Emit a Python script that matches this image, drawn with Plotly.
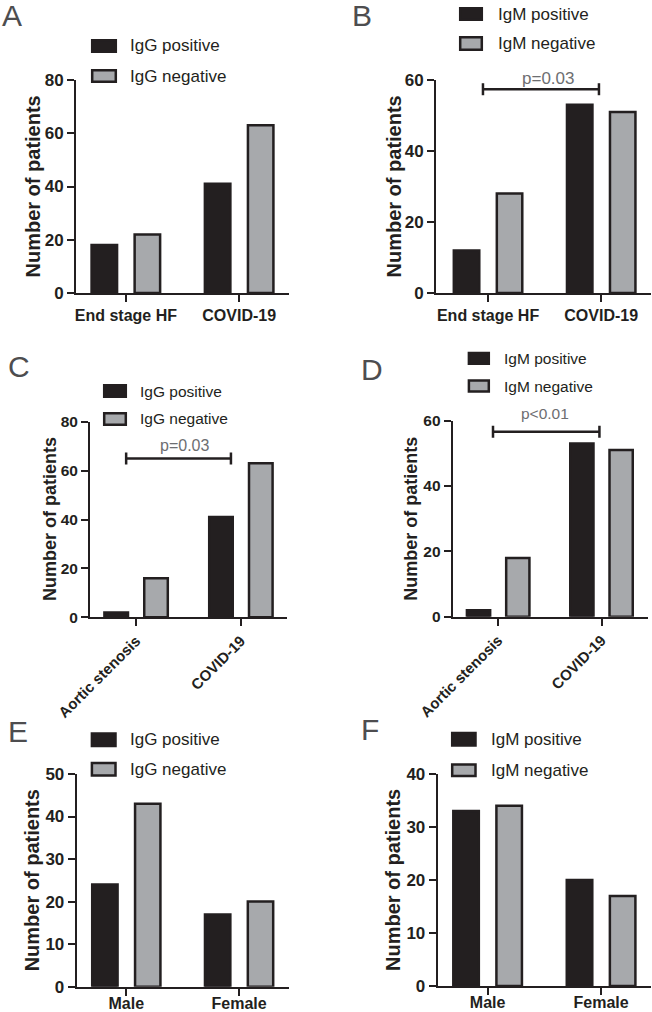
import plotly.graph_objects as go

# ---------------- data ----------------
categories_AB = ["End stage HF", "COVID-19"]
categories_CD = ["Aortic stenosis", "COVID-19"]
categories_EF = ["Male", "Female"]

igg_names = ["IgG positive", "IgG negative"]
igm_names = ["IgM positive", "IgM negative"]

A_pos = [18, 41]
A_neg = [22, 63]
B_pos = [12, 53]
B_neg = [28, 51]
C_pos = [2, 41]
C_neg = [16, 63]
D_pos = [2, 53]
D_neg = [18, 51]
E_pos = [24, 17]
E_neg = [43, 20]
F_pos = [33, 20]
F_neg = [34, 17]

ticks_A = [0, 20, 40, 60, 80]
ticks_B = [0, 20, 40, 60]
ticks_C = [0, 20, 40, 60, 80]
ticks_D = [0, 20, 40, 60]
ticks_E = [0, 10, 20, 30, 40, 50]
ticks_F = [0, 10, 20, 30, 40]

y_title = "Number of patients"
sig_B = "p=0.03"
sig_C = "p=0.03"
sig_D = "p<0.01"

# ---------------- styles / layout ----------------
W, H = 652, 1012
DARK = "#231f20"
GRAY = "#a7a9ac"
FONT = "Arial, 'Liberation Sans', sans-serif"


def px(x):
    return x / W


def py(y):
    return 1 - y / H


panels = [
    dict(letter="A", cats=categories_AB, names=igg_names, vals=(A_pos, A_neg), ticks=ticks_A,
         xdom=(76, 289), ydom=(293, 80), tick_fs=16, ytick_fs=17, title_fs=20, title_x=32, leg_fs=17,
         leg=(91, 117, 39, 53, 69, 83, 128), letter_xy=(12, 15), angle=0, xrange=(-0.44, 1.44), xstand=0),
    dict(letter="B", cats=categories_AB, names=igm_names, vals=(B_pos, B_neg), ticks=ticks_B,
         xdom=(436, 651), ydom=(293, 80), tick_fs=16, ytick_fs=17, title_fs=20, title_x=393, leg_fs=17,
         leg=(459, 483, 7, 21, 36, 51, 496), letter_xy=(362, 15), angle=0, xrange=(-0.46, 1.44), xstand=0,
         sig=sig_B, sig_y=57.4, sig_x=(-0.045, 0.98), sig_txt=(547.7, 78.5), sig_fs=17),
    dict(letter="C", cats=categories_CD, names=igg_names, vals=(C_pos, C_neg), ticks=ticks_C,
         xdom=(90, 287), ydom=(617.3, 421.7), tick_fs=15, ytick_fs=15.5, title_fs=18, title_x=49.5, leg_fs=15.5,
         leg=(103, 127, 384, 398, 412, 426, 138), letter_xy=(18.5, 366.5), angle=-45, xrange=(-0.44, 1.44), xstand=0,
         sig=sig_C, sig_y=65.0, sig_x=(-0.095, 0.905), sig_txt=(184.7, 445), sig_fs=16),
    dict(letter="D", cats=categories_CD, names=igm_names, vals=(D_pos, D_neg), ticks=ticks_D,
         xdom=(452.7, 648), ydom=(616.7, 420.7), tick_fs=15, ytick_fs=15.5, title_fs=18, title_x=411, leg_fs=15.5,
         leg=(467.7, 490, 351.7, 365, 379.3, 392.7, 502), letter_xy=(372, 369), angle=-45, xrange=(-0.44, 1.45), xstand=0,
         sig=sig_D, sig_y=56.6, sig_x=(-0.05, 0.98), sig_txt=(545, 413), sig_fs=15.5),
    dict(letter="E", cats=categories_EF, names=igg_names, vals=(E_pos, E_neg), ticks=ticks_E,
         xdom=(76.7, 288.7), ydom=(986.7, 774), tick_fs=16, ytick_fs=17, title_fs=20, title_x=32, leg_fs=17,
         leg=(90.7, 116.7, 732.3, 747.3, 761.7, 776.7, 128.3), letter_xy=(17.5, 731), angle=0, xrange=(-0.44, 1.44),
         xstand=-6),
    dict(letter="F", cats=categories_EF, names=igm_names, vals=(F_pos, F_neg), ticks=ticks_F,
         xdom=(437.7, 651), ydom=(986, 774), tick_fs=16, ytick_fs=17, title_fs=20, title_x=393, leg_fs=17,
         leg=(451, 476.7, 731.7, 746.7, 763.3, 777.3, 488.7), letter_xy=(369.5, 729), angle=0, xrange=(-0.44, 1.44),
         xstand=-6),
]

BAR_W = 0.225
CENTERS = (-0.19, 0.19)
COLORS = (DARK, GRAY)

fig = go.Figure()
shapes = []
annotations = []

for i, p in enumerate(panels, start=1):
    xa = "x" if i == 1 else f"x{i}"
    ya = "y" if i == 1 else f"y{i}"
    for k in range(2):
        fig.add_trace(go.Bar(
            x=p["cats"], y=p["vals"][k], name=p["names"][k],
            xaxis=xa, yaxis=ya, width=BAR_W, offset=CENTERS[k] - BAR_W / 2,
            marker=dict(color=COLORS[k], line=dict(color=DARK, width=2.5)),
            showlegend=False, cliponaxis=False,
        ))
    axis_common = dict(showline=True, linewidth=2, linecolor=DARK, ticks="outside",
                       ticklen=7, tickwidth=2, tickcolor=DARK, showgrid=False, zeroline=False,
                       automargin=False)
    xkey = "xaxis" if i == 1 else f"xaxis{i}"
    ykey = "yaxis" if i == 1 else f"yaxis{i}"
    fig.update_layout(**{
        xkey: dict(axis_common, domain=[px(p["xdom"][0]), px(p["xdom"][1])], anchor=ya,
                   type="category", range=list(p["xrange"]), tickangle=p["angle"],
                   categoryorder="array", categoryarray=p["cats"],
                   ticklabelstandoff=p["xstand"],
                   tickfont=dict(family=FONT, size=p["tick_fs"], color=DARK, weight="bold")),
        ykey: dict(axis_common, domain=[py(p["ydom"][0]), py(p["ydom"][1])], anchor=xa,
                   range=[0, p["ticks"][-1]], tickvals=p["ticks"],
                   tickfont=dict(family=FONT, size=p["ytick_fs"], color=DARK, weight="bold")),
    })
    # y title
    annotations.append(dict(text=y_title, x=px(p["title_x"]), y=py((p["ydom"][0] + p["ydom"][1]) / 2),
                            xref="paper", yref="paper", showarrow=False, textangle=-90,
                            xanchor="center", yanchor="middle",
                            font=dict(family=FONT, size=p["title_fs"], color=DARK, weight="bold")))
    # panel letter
    annotations.append(dict(text=p["letter"], x=px(p["letter_xy"][0]), y=py(p["letter_xy"][1]),
                            xref="paper", yref="paper", showarrow=False,
                            xanchor="center", yanchor="middle", borderpad=0,
                            font=dict(family=FONT, size=30, color="#4d4d4f")))
    # legend (boxes + labels)
    lx0, lx1, a0, a1, b0, b1, tx = p["leg"]
    for k, (y0, y1) in enumerate(((a0, a1), (b0, b1))):
        shapes.append(dict(type="rect", xref="paper", yref="paper",
                           x0=px(lx0 + 1.2), x1=px(lx1 - 1.2), y0=py(y1 - 1.2), y1=py(y0 + 1.2),
                           fillcolor=COLORS[k], line=dict(color=DARK, width=2.5)))
        annotations.append(dict(text=p["names"][k], x=px(tx), y=py((y0 + y1) / 2),
                                xref="paper", yref="paper", showarrow=False,
                                xanchor="left", yanchor="middle",
                                font=dict(family=FONT, size=p["leg_fs"], color=DARK)))
    # significance bracket
    if "sig" in p:
        sx0, sx1 = p["sig_x"]
        shapes.append(dict(type="line", xref=xa, yref=ya, x0=sx0, x1=sx1, y0=p["sig_y"], y1=p["sig_y"],
                           line=dict(color=DARK, width=2.5)))
        for sx in (sx0, sx1):
            shapes.append(dict(type="line", xref=xa, yref=ya, x0=sx, x1=sx,
                               ysizemode="pixel", yanchor=p["sig_y"], y0=-6, y1=6,
                               line=dict(color=DARK, width=2.5)))
        annotations.append(dict(text=p["sig"], x=px(p["sig_txt"][0]), y=py(p["sig_txt"][1]),
                                xref="paper", yref="paper", showarrow=False,
                                xanchor="center", yanchor="middle",
                                font=dict(family=FONT, size=p["sig_fs"], color="#6d6e71")))

fig.update_layout(
    template="none",
    width=W, height=H, autosize=False,
    margin=dict(l=0, r=0, t=0, b=0, autoexpand=False),
    paper_bgcolor="white", plot_bgcolor="white",
    barmode="overlay", showlegend=False,
    shapes=shapes, annotations=annotations,
    font=dict(family=FONT, color=DARK),
)

fig.write_html("out.html", config=dict(responsive=False, displayModeBar=False),
               post_script="document.body.style.margin='0';document.body.style.padding='0';"
                           "document.body.style.overflow='hidden';")
